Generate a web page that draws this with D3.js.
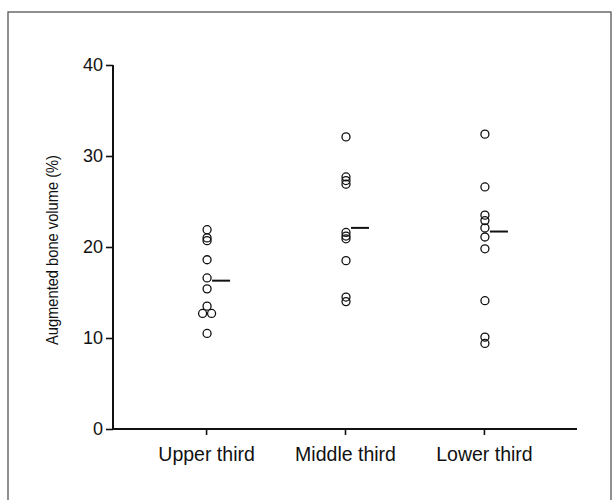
<!DOCTYPE html>
<html><head><meta charset="utf-8">
<script src="https://cdn.jsdelivr.net/npm/d3@7"></script>
<style>body{margin:0;background:#fff}svg{display:block}</style>
</head><body>
<script>
const categories = ["Upper third", "Middle third", "Lower third"];
const upperValues = [21.9, 21.0, 20.7, 18.6, 16.6, 15.4, 13.5, 12.7, 12.7, 10.5];
const middleValues = [32.1, 27.7, 27.3, 26.9, 21.6, 21.2, 20.9, 18.5, 14.5, 14.0];
const lowerValues = [32.4, 26.6, 23.5, 22.9, 22.1, 21.1, 19.8, 14.1, 10.1, 9.4];
const centralValues = [16.3, 22.1, 21.7];
const yTicks = [0, 10, 20, 30, 40];
const yLabel = "Augmented bone volume (%)";
// horizontal jitter for overlapping points in the upper group (from picture)
const upperOffsets = [0, 0, 0, 0, 0, 0, 0, -4.5, 4.5, 0];

const W = 614, H = 500;
const svg = d3.select("body").append("svg").attr("width", W).attr("height", H);

svg.append("rect").attr("x", 8).attr("y", 12).attr("width", 603).attr("height", 520)
  .attr("fill", "none").attr("stroke", "#555").attr("stroke-width", 1.3);

const x = d3.scalePoint().domain(categories).range([113, 577]).padding(0.67);
const y = d3.scaleLinear().domain([0, 40]).range([429, 65]);

const font = "'Liberation Sans', Arial, Helvetica, sans-serif";

const yAxis = svg.append("g").attr("transform", "translate(113,0)")
  .call(d3.axisLeft(y).tickValues(yTicks).tickSize(7).tickPadding(3).tickFormat(d3.format("d")));
yAxis.select(".domain").attr("stroke", "#111").attr("stroke-width", 2).attr("d", "M0,65V429");
yAxis.selectAll(".tick line").attr("stroke", "#111").attr("stroke-width", 1.6);
yAxis.selectAll(".tick text").attr("font-family", font).attr("font-size", 18).attr("fill", "#111");

const xAxis = svg.append("g").attr("transform", "translate(0,429)")
  .call(d3.axisBottom(x).tickSize(6).tickPadding(12));
xAxis.select(".domain").attr("stroke", "#111").attr("stroke-width", 2).attr("d", "M113,0H577");
xAxis.selectAll(".tick line").attr("stroke", "#111").attr("stroke-width", 1.6);
xAxis.selectAll(".tick text").attr("font-family", font).attr("font-size", 19.5).attr("fill", "#111");

svg.append("text").attr("transform", "translate(58,250) rotate(-90)")
  .attr("text-anchor", "middle").attr("font-family", font).attr("font-size", 16.5)
  .attr("textLength", 190).attr("lengthAdjust", "spacingAndGlyphs")
  .attr("fill", "#111").text(yLabel);

const groups = [upperValues, middleValues, lowerValues];
groups.forEach((vals, gi) => {
  const cx = x(categories[gi]) + 1;
  svg.append("g").selectAll("circle").data(vals).join("circle")
    .attr("cx", (d, i) => cx + (gi === 0 ? upperOffsets[i] : 0))
    .attr("cy", d => y(d))
    .attr("r", 4)
    .attr("fill", "none").attr("stroke", "#111").attr("stroke-width", 1.3);
  svg.append("line")
    .attr("x1", x(categories[gi]) + 6).attr("x2", x(categories[gi]) + 24)
    .attr("y1", y(centralValues[gi])).attr("y2", y(centralValues[gi]))
    .attr("stroke", "#111").attr("stroke-width", 2);
});
</script>
</body></html>
